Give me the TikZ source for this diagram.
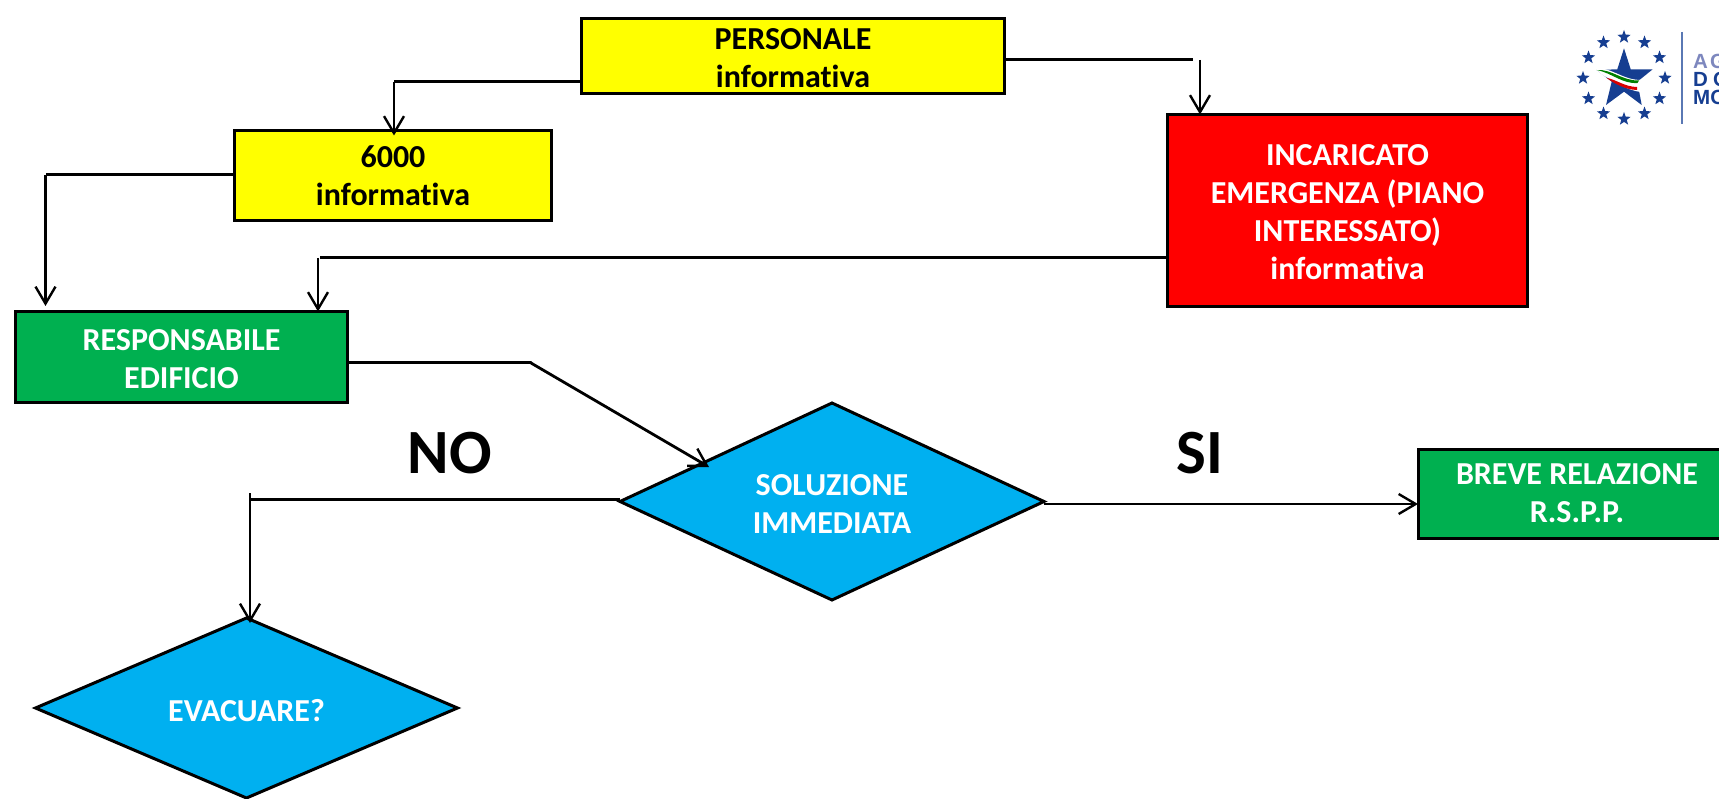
\documentclass[tikz,border=0pt]{standalone}
\usepackage{fontspec}
\setmainfont[Ligatures=NoCommon]{Carlito}
\newfontfamily\logofont{Liberation Sans}
\usetikzlibrary{shapes.geometric,arrows.meta,calc}
\definecolor{flowyellow}{RGB}{255,255,0}
\definecolor{flowred}{RGB}{255,0,0}
\definecolor{flowgreen}{RGB}{0,176,80}
\definecolor{flowblue}{RGB}{0,176,240}
\definecolor{logoblue}{RGB}{22,62,145}
\definecolor{logolight}{RGB}{125,135,190}
\definecolor{logoline}{RGB}{90,120,180}
\newcommand{\dropline}{\rule{0pt}{25pt}}
\tikzset{
  x=1pt,y=-1pt,
  flowbox/.style={draw=black,line width=3pt,rectangle,inner sep=0pt,outer sep=0pt,align=center,font=\fontsize{32}{38}\selectfont\bfseries},
  flowdia/.style={draw=black,line width=3pt,diamond,aspect=2.15,inner sep=0pt,outer sep=0pt,fill=flowblue,text=white,align=center,font=\fontsize{32}{38}\selectfont\bfseries},
  flowline/.style={draw=black,line width=3pt},
  flowarrow/.style={draw=black,line width=2.8pt,-{Straight Barb[length=17pt,width=20pt,line width=2.4pt]}},
  biglabel/.style={font=\fontsize{63}{63}\selectfont\bfseries,inner sep=0pt},
  logostar/.style={star,star points=5,star point ratio=2.4,fill=logoblue,inner sep=0pt,minimum size=14pt},
  logotext/.style={font=\logofont\fontsize{20.5}{20.5}\selectfont\bfseries,inner sep=0pt,anchor=west},
}
\begin{document}
\begin{tikzpicture}
\useasboundingbox (0,0) rectangle (1719,799);
\clip (0,0) rectangle (1719,799);
\fill[white] (0,0) rectangle (1719,799);
% nodes
\node[flowbox,fill=flowyellow,minimum width=423pt,minimum height=75pt] (pers) at (793,56) {\dropline PERSONALE\\informativa};
\node[flowbox,fill=flowyellow,minimum width=317pt,minimum height=90pt] (six) at (393,175.5) {6000\\informativa};
\node[flowbox,fill=flowred,text=white,minimum width=360pt,minimum height=192pt] (inc) at (1347.5,210.5) {\dropline INCARICATO\\EMERGENZA (PIANO\\INTERESSATO)\\informativa};
\node[flowbox,fill=flowgreen,text=white,minimum width=332pt,minimum height=91pt] (resp) at (181.5,357) {\dropline RESPONSABILE\\EDIFICIO};
\node[flowbox,fill=flowgreen,text=white,minimum width=318pt,minimum height=89pt] (rel) at (1577,493.5) {BREVE RELAZIONE\\R.S.P.P.};
\node[flowdia,minimum width=424pt,minimum height=197pt] (sol) at (832,501.5) {\dropline SOLUZIONE\\IMMEDIATA};
\node[flowdia,minimum width=422pt,minimum height=180pt] (eva) at (246.5,708) {\rule{0pt}{28pt}EVACUARE?};
\node[biglabel] (no) at (450,453) {NO};
\node[biglabel] (si) at (1200,453) {SI};
% connector corners
\coordinate (c1) at (394,82);
\coordinate (c2) at (1193,60);
\coordinate (c2b) at (1200,60);
\coordinate (c3) at (45.5,175);
\coordinate (c4) at (320,258);
\coordinate (c4b) at (318,258);
\coordinate (c5) at (531,363);
\coordinate (c5b) at (709,467);
\coordinate (c6) at (250,499);
\coordinate (c6b) at (250,493);
% connectors
\draw[flowline] (pers.west |- c1) -- (c1);
\draw[flowarrow,shorten >=-5pt] (c1) -- (c1 |- six.north);
\draw[flowline] (pers.east |- c2) -- (c2);
\draw[flowarrow] (c2b) -- (c2b |- inc.north);
\draw[flowline] (six.west |- c3) -- (c3);
\draw[flowarrow] (c3) -- (c3 |- 0,306);
\draw[flowline] (inc.west |- c4) -- (c4);
\draw[flowarrow] (c4b) -- (c4b |- resp.north);
\draw[flowline,line cap=round] (resp.east |- c5) -- (c5);
\draw[flowarrow] (c5) -- (c5b);
\draw[flowline] (sol.west |- c6) -- (c6);
\draw[flowarrow,shorten >=-5pt] (c6b) -- (c6b |- eva.north);
\draw[flowarrow] (sol.east |- 0,504) -- (rel.west |- 0,504);
% logo
\coordinate (logo) at (1624,78);
\foreach \a in {0,30,...,330} \node[logostar] at ($(logo)+(\a:41)$) {};
\fill[logoblue] (1624,48.3) -- (1630.7,69.3) -- (1652.7,69.3) -- (1637.3,81.7) -- (1641.7,105) -- (1624,91.7) -- (1606,105) -- (1611.7,81.7) -- (1596.7,70) -- (1617.3,69.3) -- cycle;
\fill[white] (1594,68) .. controls (1612,67) and (1622,80) .. (1641,80) -- (1641,92) .. controls (1625,90) and (1615,81) .. (1604,76) -- cycle;
\fill[green!50!black] (1596.7,70) .. controls (1612,69) and (1622,81) .. (1639,80.5) -- (1637.5,83) .. controls (1622,84) and (1612,73) .. (1596.7,70) -- cycle;
\fill[red!85!black] (1606.7,78) .. controls (1615,79) and (1625,87) .. (1637,87) -- (1637,90) .. controls (1625,89.5) and (1615,84) .. (1606.7,78) -- cycle;
\draw[logoline,line width=1.5pt] (1682,32) -- (1682,124);
\node[logotext,text=logolight] (lg1) at (1693,61) {A\kern2pt G};
\node[logotext,text=logoblue] (lg2) at (1693,79) {D\kern5pt O};
\node[logotext,text=logoblue] (lg3) at (1693,97) {MO};
\end{tikzpicture}
\end{document}
